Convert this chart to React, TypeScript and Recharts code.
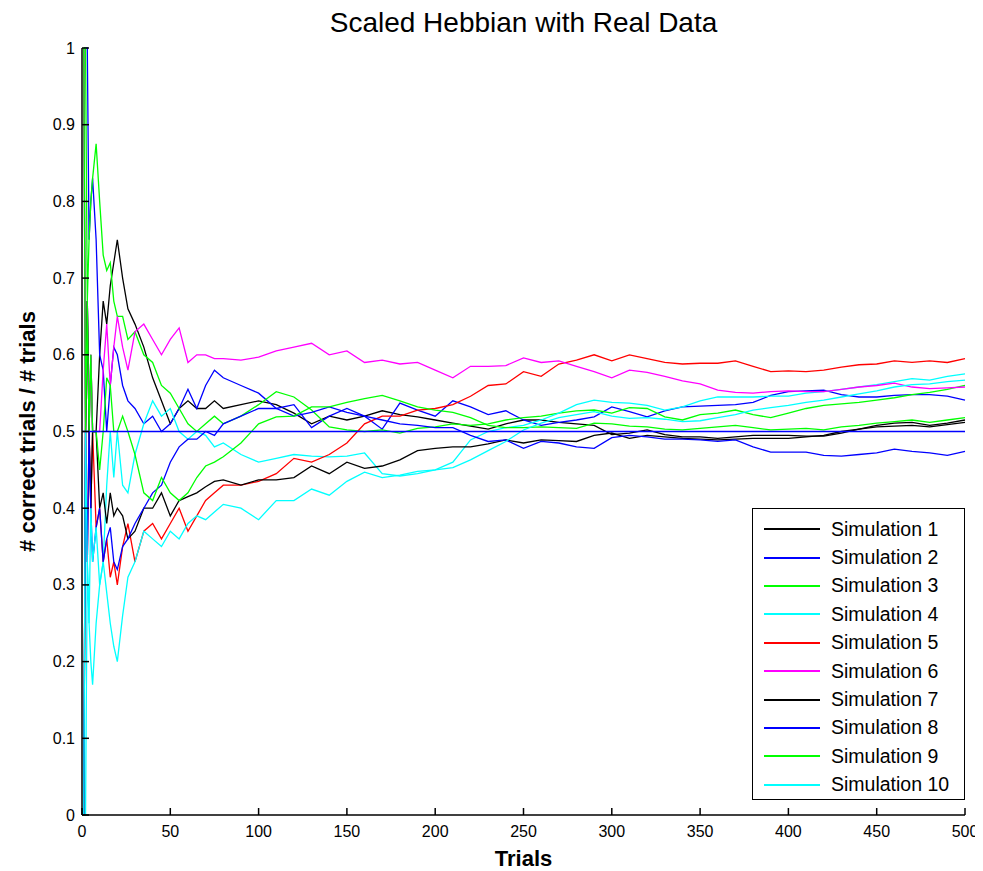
import React from 'react';
import { LineChart, Line, XAxis, YAxis, ReferenceLine } from 'recharts';

// trial numbers the running fractions were sampled at
const trials = [
  1, 2, 3, 4, 5, 6, 8, 10, 12, 14, 16, 18, 20, 23, 26, 30,
  35, 40, 45, 50, 55, 60, 65, 70, 75, 80,
  90, 100, 110, 120, 130, 140, 150, 160, 170, 180, 190, 200, 210, 220, 230, 240,
  250, 260, 270, 280, 290, 300, 310, 320, 330, 340, 350, 360, 370, 380, 390, 400,
  410, 420, 430, 440, 450, 460, 470, 480, 490, 500,
];

// # correct trials / # trials for each simulation
const sim1 = [
  1, 0.5, 0.67, 0.5, 0.6, 0.5, 0.5, 0.6, 0.67, 0.64, 0.69, 0.72, 0.75, 0.7, 0.66, 0.64,
  0.61, 0.57, 0.54, 0.51, 0.53, 0.54, 0.53, 0.53, 0.54, 0.53,
  0.535, 0.54, 0.535, 0.524, 0.51, 0.52, 0.515, 0.52, 0.527, 0.522, 0.519, 0.515, 0.511, 0.507, 0.503, 0.51,
  0.515, 0.515, 0.512, 0.51, 0.508, 0.496, 0.498, 0.502, 0.496, 0.493, 0.493, 0.491, 0.493, 0.495, 0.495, 0.495,
  0.494, 0.494, 0.498, 0.503, 0.508, 0.511, 0.512, 0.508, 0.511, 0.515,
];
const sim2 = [
  1, 1, 1, 0.75, 0.8, 0.83, 0.75, 0.6, 0.58, 0.5, 0.56, 0.61, 0.6, 0.56, 0.54, 0.53,
  0.51, 0.52, 0.5, 0.51, 0.53, 0.555, 0.53, 0.56, 0.58, 0.57,
  0.56, 0.55, 0.53, 0.535, 0.505, 0.52, 0.53, 0.52, 0.503, 0.537, 0.528, 0.52, 0.54, 0.532, 0.522, 0.527,
  0.515, 0.508, 0.512, 0.515, 0.519, 0.532, 0.526, 0.519, 0.527, 0.532, 0.533, 0.534, 0.535, 0.538, 0.547, 0.552,
  0.553, 0.554, 0.548, 0.545, 0.545, 0.547, 0.548, 0.548, 0.546, 0.541,
];
const sim3 = [
  1, 1, 0.67, 0.75, 0.8, 0.83, 0.875, 0.8, 0.73, 0.71, 0.72, 0.67, 0.65, 0.65, 0.62, 0.63,
  0.6, 0.59, 0.56, 0.55, 0.53, 0.51, 0.5, 0.51, 0.52, 0.51,
  0.52, 0.535, 0.552, 0.545, 0.528, 0.506, 0.502, 0.5, 0.502, 0.498, 0.504, 0.506, 0.51, 0.508, 0.51, 0.515,
  0.518, 0.52, 0.524, 0.527, 0.528, 0.524, 0.531, 0.53, 0.519, 0.515, 0.522, 0.524, 0.528, 0.522, 0.518, 0.524,
  0.53, 0.534, 0.536, 0.538, 0.541, 0.544, 0.548, 0.551, 0.555, 0.56,
];
const sim4 = [
  0, 0, 0.33, 0.25, 0.2, 0.17, 0.25, 0.3, 0.33, 0.43, 0.5, 0.44, 0.5, 0.43, 0.42, 0.47,
  0.51, 0.54, 0.52, 0.53, 0.5, 0.49, 0.5, 0.495, 0.48, 0.485,
  0.47, 0.46, 0.465, 0.47, 0.468, 0.467, 0.468, 0.472, 0.445, 0.442, 0.445, 0.45, 0.46, 0.489, 0.5, 0.505,
  0.508, 0.515, 0.524, 0.535, 0.541, 0.538, 0.537, 0.534, 0.528, 0.532, 0.54, 0.545, 0.545, 0.545, 0.546, 0.546,
  0.55, 0.552, 0.555, 0.558, 0.561, 0.565, 0.569, 0.567, 0.572, 0.575,
];
const sim5 = [
  0, 0.5, 0.33, 0.5, 0.4, 0.5, 0.375, 0.4, 0.33, 0.36, 0.31, 0.33, 0.3, 0.35, 0.38, 0.33,
  0.37, 0.38, 0.36, 0.38, 0.4, 0.37, 0.39, 0.41, 0.42, 0.43,
  0.43, 0.435, 0.445, 0.465, 0.46, 0.47, 0.485, 0.51, 0.52, 0.52, 0.528, 0.53, 0.535, 0.546, 0.56, 0.562,
  0.578, 0.572, 0.588, 0.593, 0.6, 0.592, 0.6, 0.595, 0.59, 0.588, 0.589, 0.589, 0.592, 0.585, 0.578, 0.579,
  0.578, 0.58, 0.584, 0.587, 0.588, 0.592, 0.59, 0.592, 0.59, 0.595,
];
const sim6 = [
  1, 0.5, 0.67, 0.5, 0.6, 0.5, 0.5, 0.5, 0.58, 0.64, 0.56, 0.61, 0.65, 0.61, 0.58, 0.63,
  0.64, 0.62, 0.6, 0.62, 0.635, 0.59, 0.6, 0.6, 0.595, 0.595,
  0.593, 0.597, 0.605, 0.61, 0.615, 0.6, 0.605, 0.59, 0.593, 0.588, 0.59, 0.58, 0.57, 0.585, 0.585, 0.586,
  0.596, 0.59, 0.592, 0.585, 0.578, 0.57, 0.58, 0.577, 0.572, 0.566, 0.562, 0.554, 0.551, 0.55, 0.552, 0.553,
  0.552, 0.552, 0.555, 0.558, 0.56, 0.563, 0.558, 0.556, 0.557, 0.558,
];
const sim7 = [
  0, 0.5, 0.67, 0.5, 0.4, 0.5, 0.5, 0.4, 0.42, 0.38, 0.42, 0.39, 0.4, 0.39, 0.36, 0.37,
  0.4, 0.4, 0.42, 0.39, 0.41, 0.415, 0.42, 0.428, 0.435, 0.437,
  0.43, 0.437, 0.437, 0.44, 0.455, 0.445, 0.46, 0.452, 0.455, 0.463, 0.475, 0.478, 0.48, 0.48, 0.484, 0.489,
  0.485, 0.489, 0.488, 0.487, 0.495, 0.498, 0.491, 0.495, 0.493, 0.491, 0.49, 0.489, 0.49, 0.491, 0.491, 0.491,
  0.493, 0.495, 0.5, 0.503, 0.506, 0.507, 0.508, 0.506, 0.509, 0.512,
];
const sim8 = [
  0, 0.5, 0.33, 0.5, 0.4, 0.33, 0.375, 0.4, 0.33, 0.36, 0.375, 0.33, 0.32, 0.35, 0.36, 0.38,
  0.4, 0.42, 0.43, 0.46, 0.48, 0.49, 0.49, 0.5, 0.495, 0.51,
  0.52, 0.53, 0.53, 0.52, 0.525, 0.532, 0.525, 0.52, 0.515, 0.51, 0.508, 0.505, 0.505, 0.495, 0.487, 0.489,
  0.478, 0.487, 0.485, 0.48, 0.478, 0.492, 0.495, 0.493, 0.49, 0.49, 0.489, 0.487, 0.489, 0.48, 0.473, 0.473,
  0.473, 0.469, 0.468, 0.47, 0.472, 0.477, 0.474, 0.472, 0.469, 0.474,
];
const sim9 = [
  1, 0.5, 0.67, 0.5, 0.6, 0.5, 0.5, 0.45, 0.5, 0.57, 0.56, 0.5, 0.5, 0.52, 0.5, 0.47,
  0.42, 0.41, 0.44, 0.42, 0.41, 0.42, 0.44, 0.455, 0.46, 0.467,
  0.485, 0.51, 0.519, 0.52, 0.532, 0.532, 0.538, 0.543, 0.547, 0.54, 0.532, 0.528, 0.525, 0.518, 0.508, 0.505,
  0.505, 0.506, 0.505, 0.504, 0.511, 0.51, 0.507, 0.506, 0.503, 0.502, 0.504, 0.506, 0.508, 0.505, 0.502, 0.503,
  0.504, 0.502, 0.506, 0.508, 0.511, 0.513, 0.515, 0.512, 0.515, 0.518,
];
const sim10 = [
  0, 0.5, 0.33, 0.25, 0.4, 0.33, 0.375, 0.3, 0.33, 0.29, 0.25, 0.22, 0.2, 0.26, 0.31, 0.33,
  0.37, 0.36, 0.35, 0.37, 0.36, 0.38, 0.39, 0.385, 0.395, 0.405,
  0.4, 0.385, 0.41, 0.41, 0.425, 0.417, 0.435, 0.447, 0.44, 0.443, 0.448, 0.45, 0.453, 0.463, 0.475, 0.487,
  0.502, 0.511, 0.518, 0.522, 0.526, 0.52, 0.517, 0.518, 0.516, 0.513, 0.514, 0.518, 0.522, 0.528, 0.531, 0.534,
  0.538, 0.541, 0.545, 0.549, 0.553, 0.558, 0.561, 0.562, 0.565, 0.567,
];

const simValues = [sim1, sim2, sim3, sim4, sim5, sim6, sim7, sim8, sim9, sim10];
const simNames = simValues.map((_, i) => `Simulation ${i + 1}`);
const simColors = [
  '#000000', '#0000ff', '#00ff00', '#00ffff', '#ff0000',
  '#ff00ff', '#000000', '#0000ff', '#00ff00', '#00ffff',
];

const xTicks = [0, 50, 100, 150, 200, 250, 300, 350, 400, 450, 500];
const yTicks = [0, 0.1, 0.2, 0.3, 0.4, 0.5, 0.6, 0.7, 0.8, 0.9, 1];

const rows = trials.map((t, i) => {
  const row: Record<string, number> = { t };
  simValues.forEach((vals, s) => {
    row[`s${s + 1}`] = vals[i];
  });
  return row;
});

const FONT = '"Liberation Sans", Arial, sans-serif';

// matlab style: tick marks point into the axes
const LeftTick = (props: any) => {
  const { x, y, payload } = props;
  return (
    <g>
      <line x1={x + 8} x2={x + 15} y1={y} y2={y} stroke="#000" strokeWidth={1.5} />
      <text x={x + 1} y={y} textAnchor="end" dominantBaseline="central" fontSize={16} fontFamily={FONT} fill="#000">
        {payload.value}
      </text>
    </g>
  );
};

const BottomTick = (props: any) => {
  const { x, y, payload } = props;
  return (
    <g>
      <line x1={x} x2={x} y1={y - 8} y2={y - 15} stroke="#000" strokeWidth={1.5} />
      <text x={x} y={y + 8} textAnchor="middle" dominantBaseline="central" fontSize={16} fontFamily={FONT} fill="#000">
        {payload.value}
      </text>
    </g>
  );
};

// legend box drawn over the lower right of the axes
const LegendBox = () => (
  <div
    style={{
      position: 'absolute',
      left: 744,
      top: 500,
      width: 213,
      height: 292,
      border: '1px solid #000',
      background: '#fff',
      fontFamily: FONT,
      fontSize: 19.5,
      paddingTop: 6,
      boxSizing: 'border-box',
      color: '#000',
    }}
  >
    {simNames.map((name, i) => (
      <div key={name} style={{ display: 'flex', alignItems: 'center', height: 28.4 }}>
        <div style={{ width: 56, height: 2, background: simColors[i], marginLeft: 11, marginRight: 11 }} />
        <span>{name}</span>
      </div>
    ))}
  </div>
);

export default function App() {
  return (
    <div style={{ position: 'relative', width: 975, height: 863, background: '#fff' }}>
      <div
        style={{
          position: 'absolute',
          left: 74,
          top: 0,
          width: 883,
          textAlign: 'center',
          fontFamily: FONT,
          fontSize: 28,
          lineHeight: '30px',
          color: '#000',
        }}
      >
        Scaled Hebbian with Real Data
      </div>
      <LineChart width={975} height={863} data={rows} margin={{ top: 40, right: 18, left: 0, bottom: 0 }}>
        <XAxis
          dataKey="t"
          type="number"
          domain={[0, 500]}
          ticks={xTicks}
          tickLine={false}
          tick={<BottomTick />}
          height={56}
          stroke="#000"
          strokeWidth={1.5}
          label={({ viewBox }: any) => (
            <text
              x={viewBox.x + viewBox.width / 2}
              y={viewBox.y + 43}
              textAnchor="middle"
              dominantBaseline="central"
              fontSize={22}
              fontWeight="bold"
              fontFamily={FONT}
            >
              Trials
            </text>
          )}
        />
        <YAxis
          type="number"
          domain={[0, 1]}
          ticks={yTicks}
          tickLine={false}
          tick={<LeftTick />}
          width={74}
          stroke="#000"
          strokeWidth={1.5}
          label={({ viewBox }: any) => {
            const cx = viewBox.x + 19;
            const cy = viewBox.y + viewBox.height / 2;
            return (
              <text
                x={cx}
                y={cy}
                transform={`rotate(-90, ${cx}, ${cy})`}
                textAnchor="middle"
                dominantBaseline="central"
                fontSize={22}
                fontWeight="bold"
                fontFamily={FONT}
              >
                # correct trials / # trials
              </text>
            );
          }}
        />
        {simValues.map((_, i) => (
          <Line
            key={i}
            type="linear"
            dataKey={`s${i + 1}`}
            name={simNames[i]}
            stroke={simColors[i]}
            strokeWidth={1.3}
            dot={false}
            isAnimationActive={false}
          />
        ))}
        <ReferenceLine y={0.5} stroke="#0000ff" strokeWidth={1.5} />
      </LineChart>
      <LegendBox />
    </div>
  );
}
